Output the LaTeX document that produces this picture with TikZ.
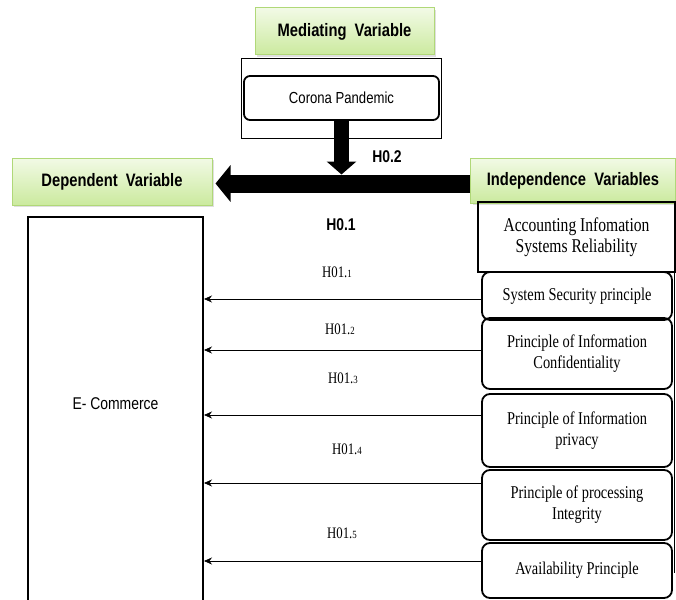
\documentclass[tikz,border=0pt]{standalone}
\usepackage{fontspec}
\newfontfamily\labelsans[FakeStretch=0.82]{Liberation Sans}
\newfontfamily\bodyserif[FakeStretch=0.8]{Liberation Serif}
\usetikzlibrary{arrows.meta,positioning,shadows,fit}
\definecolor{vartop}{HTML}{F2FAE6}
\definecolor{varbot}{HTML}{CBEA9E}
\definecolor{varline}{HTML}{B0D878}

\begin{document}
\begin{tikzpicture}[x=1pt,y=-1pt,
    varhead/.style={draw=varline, line width=1pt, top color=vartop, bottom color=varbot,
      drop shadow={opacity=0.25,shadow xshift=2pt,shadow yshift=-2pt},
      font=\labelsans\bfseries\fontsize{18}{20}\selectfont, inner sep=0pt},
    roundbox/.style={draw, line width=1.8pt, rounded corners=8pt, align=center,
      font=\bodyserif\fontsize{18}{21}\selectfont, minimum width=190pt, inner sep=0pt},
    hyp/.style={font=\bodyserif\fontsize{16}{18}\selectfont},
    hypbold/.style={font=\labelsans\bfseries\fontsize{17}{20}\selectfont},
    hypline/.style={-{Stealth[length=8pt,width=7pt]}, line width=0.7pt},
    bigarrow/.style={line width=18pt, -{Triangle[length=15pt,width=36pt]}},
    stemarrow/.style={line width=15pt, -{Triangle[length=13pt,width=29pt]}}]
  \useasboundingbox (0,0) rectangle (676,599);

  % variable headers
  \node[varhead, minimum width=179pt, minimum height=47pt] (med) at (344.5,31.5) {Mediating\ \ Variable};
  \node[varhead, minimum width=200pt, minimum height=47pt] (dep) at (112,181.5) {Dependent\ \ Variable};
  \node[varhead, minimum width=205pt, minimum height=45pt] (indep) at (573,180.5) {Independence\ \ Variables};

  % mediating variable
  \node[draw, line width=1.8pt, rounded corners=6pt, minimum width=195pt, minimum height=44pt,
    font=\labelsans\fontsize{16}{18}\selectfont] (corona) at (341.5,98) {Corona Pandemic};
  \node[draw, line width=0.6pt, fit=(corona), inner xsep=1.5pt, inner ysep=17pt] (frame) {};

  % dependent variable
  \node[draw, line width=2pt, minimum width=175pt, minimum height=384pt,
    font=\labelsans\fontsize{17}{20}\selectfont] (ecom) at (115.5,409) {\raisebox{10pt}{E- Commerce}};

  % independent variables
  \node[draw, line width=2pt, minimum width=197pt, minimum height=70pt, align=center,
    font=\bodyserif\fontsize{19.5}{21}\selectfont] (ais) at (576.5,237) {Accounting Infomation\\Systems Reliability};
  \node[roundbox, minimum height=48pt] (sec) at (577,296) {System Security principle};
  \node[roundbox, minimum height=71pt, below=-3.8pt of sec] (conf) {Principle of Information\\Confidentiality};
  \node[roundbox, minimum height=73pt, below=3.2pt of conf] (priv) {Principle of Information\\privacy};
  \node[roundbox, minimum height=70pt, below=1.2pt of priv] (integ) {Principle of processing\\Integrity};
  \node[roundbox, minimum height=55pt, below=1.2pt of integ] (avail) {Availability Principle};
  \coordinate (rt) at ([xshift=1.5pt]sec.north east);
  \draw[line width=0.5pt] (rt) -- ([yshift=-2pt]rt |- avail.center);

  % H0.1 and H0.2
  \coordinate (barR) at ([yshift=-3pt]indep.west);
  \draw[bigarrow, shorten >=3pt] (barR) -- (barR -| dep.east);
  \draw[stemarrow] (corona.south) -- ([yshift=9pt]barR -| corona.south);
  \node[hypbold] (h02) at (387,157) {H0.2};
  \node[hypbold] (h01) at (341,225) {H0.1};

  % sub-hypotheses
  \foreach \bx/\up in {sec/-3, conf/3.5, priv/15.5, integ/22, avail/9.5}{
    \coordinate (\bx-in) at ([yshift=\up pt]\bx.west);
    \draw[hypline] (\bx-in) -- (\bx-in -| ecom.east);
  }
  \foreach \i/\x/\y in {1/337/272, 2/340/329, 3/343/378, 4/347/449, 5/342/533}
    \node[hyp] (h\i) at (\x,\y) {H01.{\fontsize{11}{12}\selectfont\i}};
\end{tikzpicture}
\end{document}
